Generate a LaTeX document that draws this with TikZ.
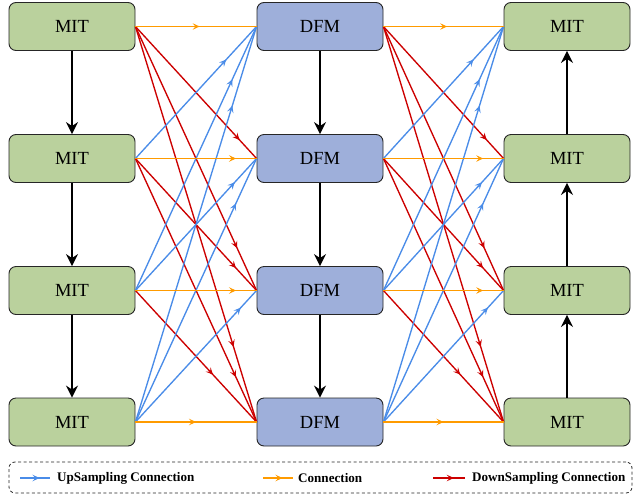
\documentclass[tikz,border=0pt]{standalone}
\usepackage{fontspec}
\setmainfont{Liberation Serif}
\usetikzlibrary{arrows.meta,decorations.markings}

\definecolor{mitgreen}{RGB}{186,209,157}
\definecolor{dfmblue}{RGB}{158,175,218}
\definecolor{upblue}{RGB}{74,140,232}
\definecolor{conorange}{RGB}{255,155,0}
\definecolor{downred}{RGB}{204,0,0}

\begin{document}
\begin{tikzpicture}[x=1pt,y=-1pt,
  box/.style={draw=black!85, line width=0.9pt, rounded corners=7pt,
    minimum width=126pt, minimum height=48pt, inner sep=0pt,
    font=\fontsize{18.5}{20}\selectfont},
  mit/.style={box, fill=mitgreen},
  dfm/.style={box, fill=dfmblue},
  tipat/.style={postaction={decorate,decoration={markings,
    mark=at position #1 with {\arrow{Stealth[length=7pt,width=6.5pt,inset=2.8pt]}}}}},
  up/.style={color=upblue, line width=1.35pt, tipat=#1},
  con/.style={color=conorange, line width=1.35pt, tipat=#1},
  down/.style={color=downred, line width=1.35pt, tipat=#1},
  vert/.style={draw=black, line width=1.6pt, -{Stealth[length=12pt,width=12pt,inset=4pt]}},
  legtext/.style={anchor=west, inner sep=0pt, font=\bfseries\fontsize{13.1}{15}\selectfont}
]
\useasboundingbox (0,0) rectangle (637,496);

% nodes
\foreach \r/\y in {1/26.5,2/158.5,3/290.5,4/422} {
  \node[mit] (L\r) at (72,\y) {MIT};
  \node[dfm] (D\r) at (320,\y) {DFM};
  \node[mit] (R\r) at (567,\y) {MIT};
}

% vertical connectors
\draw[vert] (L1.south) -- (L2.north);
\draw[vert] (L2.south) -- (L3.north);
\draw[vert] (L3.south) -- (L4.north);
\draw[vert] (D1.south) -- (D2.north);
\draw[vert] (D2.south) -- (D3.north);
\draw[vert] (D3.south) -- (D4.north);
\draw[vert] (R2.north) -- (R1.south);
\draw[vert] (R3.north) -- (R2.south);
\draw[vert] (R4.north) -- (R3.south);

% down-sampling (red)
\foreach \i/\j/\p in {1/2/0.86,1/3/0.84,2/3/0.83,1/4/0.81,2/4/0.83,3/4/0.64} {
  \draw[down=\p] (L\i.east) -- (D\j.west);
  \draw[down=\p] (D\i.east) -- (R\j.west);
}
% up-sampling (blue)
\foreach \i/\j/\p in {2/1/0.75,3/1/0.8,4/1/0.8,3/2/0.82,4/2/0.83,4/3/0.87} {
  \draw[up=\p] (L\i.east) -- (D\j.west);
  \draw[up=\p] (D\i.east) -- (R\j.west);
}
% same level (orange)
\foreach \i/\p in {1/0.53,2/0.83,3/0.83,4/0.5} {
  \draw[con=\p] (L\i.east) -- (D\i.west);
  \draw[con=\p] (D\i.east) -- (R\i.west);
}

% legend
\node[draw=black!85, line width=0.8pt, dash pattern=on 3pt off 2.5pt, rounded corners=6pt,
  minimum width=623pt, minimum height=31pt, inner sep=0pt] (legend) at (320.5,477.5) {};
\coordinate (ua) at (20,478);
\coordinate (ub) at (50,478);
\draw[up=0.65] (ua) -- (ub);
\node[legtext] (ul) at (57,478.5) {UpSampling Connection};
\coordinate (ca) at (263,478);
\coordinate (cb) at (293,478);
\draw[con=0.65] (ca) -- (cb);
\node[legtext] (cl) at (298,478.5) {Connection};
\coordinate (da) at (433,478);
\coordinate (db) at (465,478);
\draw[down=0.65] (da) -- (db);
\node[legtext] (dl) at (472,478.5) {DownSampling Connection};
\end{tikzpicture}
\end{document}
